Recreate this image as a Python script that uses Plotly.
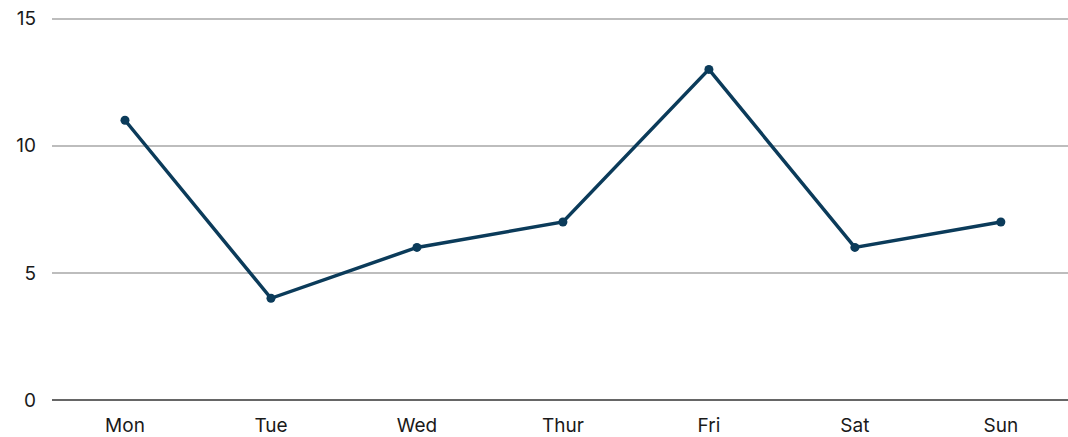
import plotly.graph_objects as go

days = ["Mon", "Tue", "Wed", "Thur", "Fri", "Sat", "Sun"]
values = [11, 4, 6, 7, 13, 6, 7]
y_ticks = [0, 5, 10, 15]

fig = go.Figure()
fig.add_trace(go.Scatter(
    x=days, y=values, mode="lines+markers",
    line=dict(color="#0b3b5a", width=3.5),
    marker=dict(size=9, color="#0b3b5a"),
    showlegend=False,
))

fig.update_layout(
    width=1068, height=437,
    margin=dict(l=52, r=0, t=16, b=32),
    paper_bgcolor="white", plot_bgcolor="white",
    font=dict(family="Inter, Noto Sans, sans-serif", size=19, color="#1a1a1a"),
    xaxis=dict(
        type="category", range=[-0.5, 6.46],
        showgrid=False, showline=False, zeroline=False,
        ticks="", ticklabelstandoff=12, ticklabeloverflow="allow",
    ),
    yaxis=dict(
        range=[0, 15.1], tickvals=y_ticks,
        showgrid=True, gridcolor="#bdbdbd", gridwidth=1.5,
        zeroline=True, zerolinecolor="#666666", zerolinewidth=2,
        showline=False, ticks="", ticklabelstandoff=15,
        ticklabeloverflow="allow",
    ),
)

fig.write_html(
    "out.html",
    config={"displayModeBar": False},
    post_script="document.body.style.margin='0';document.body.style.overflow='hidden';",
)
